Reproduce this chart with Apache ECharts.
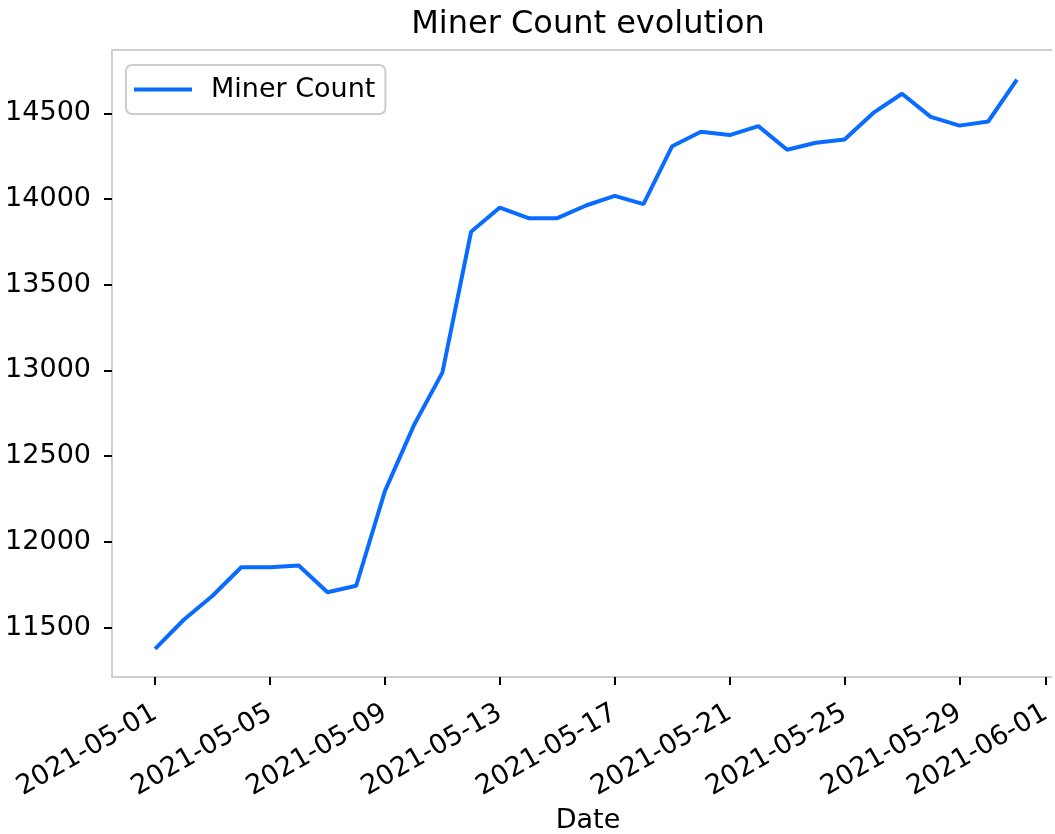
<!DOCTYPE html>
<html>
<head>
<meta charset="utf-8">
<script src="https://cdn.jsdelivr.net/npm/echarts@6/dist/echarts.min.js"></script>
<style>
    html, body { margin: 0; padding: 0; background: #fff; }
    #chart { width: 1055px; height: 834px; }
</style>
</head>
<body>
<div id="chart"></div>
<script>
// day offset from 2021-05-01
var days = [0, 1, 2, 3, 4, 5, 6, 7, 8, 9, 10, 11, 12, 13, 14, 15,
    16, 17, 18, 19, 20, 21, 22, 23, 24, 25, 26, 27, 28, 29, 30];
var minerCount = [11376, 11546, 11686, 11852, 11852, 11862, 11706, 11744, 12296, 12677, 12987,
    13809, 13950, 13888, 13888, 13962, 14018, 13970, 14308, 14392, 14373, 14425,
    14287, 14328, 14347, 14502, 14614, 14479, 14428, 14452, 14696];
var xTicks = [0, 4, 8, 12, 16, 20, 24, 28, 31];
var yTicks = [11500, 12000, 12500, 13000, 13500, 14000, 14500];

var startMs = Date.UTC(2021, 4, 1);
var dayMs = 86400000;

function pad(n) {
    return n < 10 ? '0' + n : '' + n;
}

function dayLabel(v) {
    var d = new Date(startMs + v * dayMs);
    return d.getUTCFullYear() + '-' + pad(d.getUTCMonth() + 1) + '-' + pad(d.getUTCDate());
}

var chart = echarts.init(document.getElementById('chart'));

var seriesData = [];
for (var i = 0; i < days.length; i++) {
    seriesData.push([days[i], minerCount[i]]);
}

var spine = { show: true, onZero: false, lineStyle: { color: '#cfcfcf', width: 2 } };
var tickStyle = { color: '#000', width: 2 };

option = {
    animation: false,
    textStyle: { fontFamily: 'DejaVu Sans' },
    title: [{
        text: 'Miner Count evolution',
        left: 588,
        textAlign: 'center',
        top: 9,
        padding: 0,
        textStyle: { fontFamily: 'DejaVu Sans', fontSize: 32, fontWeight: 'normal', color: '#000' }
    }, {
        text: 'Date',
        left: 588,
        textAlign: 'center',
        top: 807,
        padding: 0,
        textStyle: { fontFamily: 'DejaVu Sans', fontSize: 27, fontWeight: 'normal', color: '#000' }
    }],
    legend: {
        left: 126,
        top: 65,
        icon: 'rect',
        itemWidth: 58,
        itemHeight: 4,
        padding: [11, 10, 11, 8],
        borderColor: '#cccccc',
        borderWidth: 2,
        borderRadius: 6,
        backgroundColor: 'rgba(255,255,255,0.8)',
        textStyle: { fontFamily: 'DejaVu Sans', fontSize: 27, color: '#000', padding: [0, 0, 0, 14] },
        data: ['Miner Count']
    },
    grid: {
        left: 112,
        right: 0,
        top: 50,
        bottom: 157
    },
    xAxis: [{
        type: 'value',
        min: -1.5,
        max: 31.2,
        axisLine: spine,
        splitLine: { show: false },
        axisTick: {
            show: true,
            length: 8,
            lineStyle: tickStyle,
            customValues: xTicks
        },
        axisLabel: {
            rotate: 30,
            margin: 34,
            fontFamily: 'DejaVu Sans',
            fontSize: 27,
            color: '#000',
            hideOverlap: false,
            customValues: xTicks,
            formatter: dayLabel
        }
    }, {
        type: 'value',
        position: 'top',
        min: -1.5,
        max: 31.2,
        axisLine: spine,
        splitLine: { show: false },
        axisTick: { show: false },
        axisLabel: { show: false }
    }],
    yAxis: {
        type: 'value',
        min: 11212,
        max: 14869,
        axisLine: spine,
        splitLine: { show: false },
        axisTick: {
            show: true,
            length: 8,
            lineStyle: tickStyle,
            customValues: yTicks
        },
        axisLabel: {
            margin: 21,
            fontFamily: 'DejaVu Sans',
            fontSize: 27,
            color: '#000',
            customValues: yTicks,
            formatter: function (v) { return String(v); }
        }
    },
    series: [{
        name: 'Miner Count',
        type: 'line',
        xAxisIndex: 0,
        data: seriesData,
        symbol: 'none',
        lineStyle: { color: '#0a6cff', width: 4 },
        itemStyle: { color: '#0a6cff' }
    }]
};
chart.setOption(option);
</script>
</body>
</html>
